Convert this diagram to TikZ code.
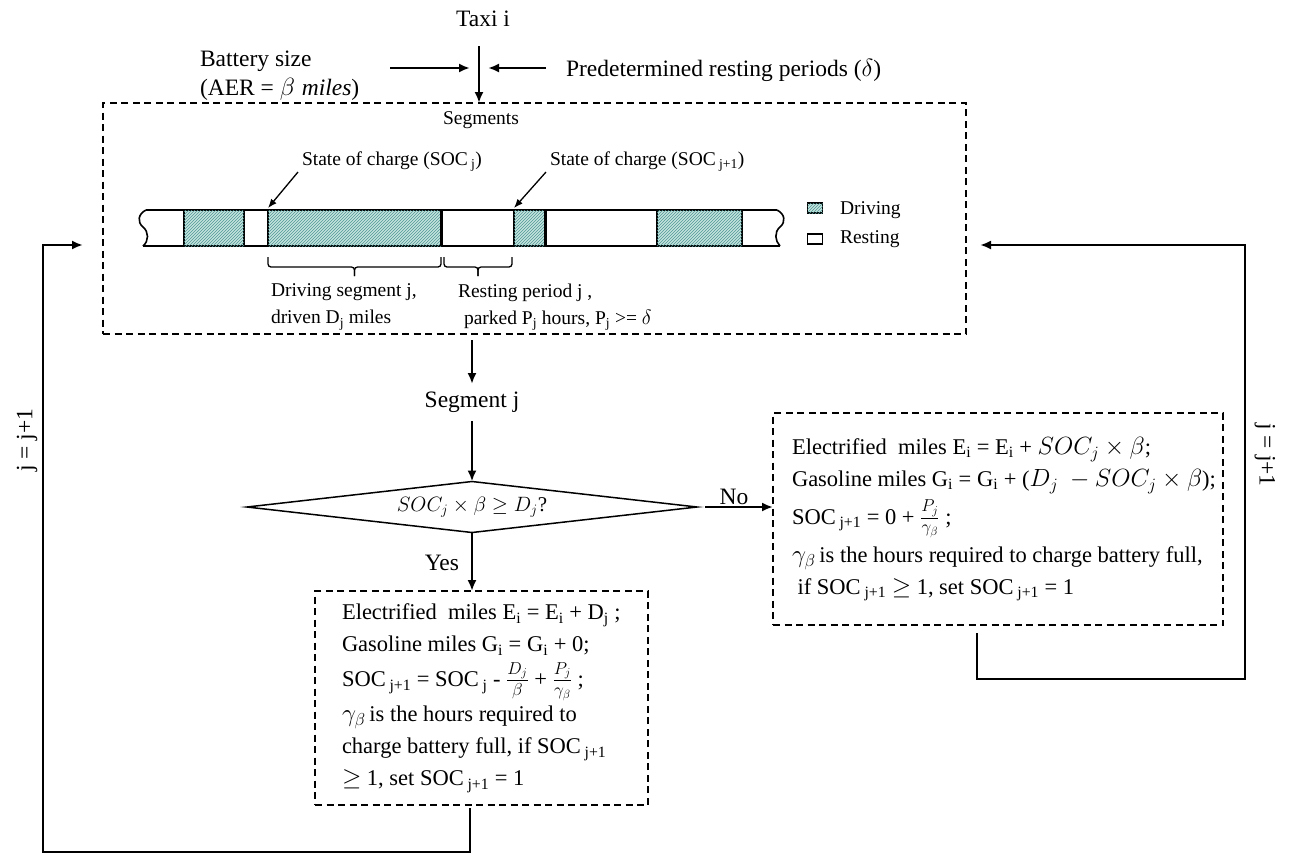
\documentclass[tikz,border=0pt]{standalone}
\usepackage{fontspec}
\setmainfont{Liberation Serif}
\usepackage{amsmath,amssymb}
\usetikzlibrary{arrows.meta,patterns,shapes.geometric}
\definecolor{drivecol}{RGB}{196,228,222}
\definecolor{hatchcol}{RGB}{80,150,150}
\newcommand{\mth}[1]{{\fontsize{25}{30}\selectfont$#1$}}
\begin{document}
\begin{tikzpicture}[x=1pt,y=-1pt,
  every node/.style={inner sep=0pt, outer sep=0pt},
  fnt/.style={font=\fontsize{23.5}{29}\selectfont, align=left},
  bfnt/.style={font=\fontsize{22.5}{32}\selectfont, align=left},
  sfnt/.style={font=\fontsize{19.5}{27}\selectfont, align=left},
  conn/.style={line width=2.2pt},
  arr/.style={conn,-{Latex[length=11pt,width=9pt]}},
  thinarr/.style={line width=1.3pt,-{Latex[length=9pt,width=7pt]}},
  dbox/.style={draw, line width=1.4pt, dash pattern=on 7pt off 4.5pt},
  drv/.style={fill=drivecol, postaction={pattern=north east lines, pattern color=hatchcol}},
  barline/.style={line width=1.6pt},
  brc/.style={line width=1.3pt, rounded corners=3pt},
]
\useasboundingbox (0,0) rectangle (1293,855);

% top inputs
\node[fnt, anchor=base] (taxi) at (483,26) {Taxi i};
\node[fnt, anchor=west] (battery) at (200,76) {Battery size\\(AER = $\beta\;\mathit{miles}$)};
\node[fnt, anchor=west] (pred) at (566,70) {Predetermined resting periods ($\delta$)};
\coordinate (mid) at (479,68);
\coordinate (battarr) at (390,68);
\node[dbox, minimum width=863, minimum height=231, anchor=north west] (segbox) at (103,103) {};
\draw[arr] (mid |- 0,46) -- (mid |- segbox.north);
\draw[arr] (battarr) -- ([xshift=-9pt]mid);
\draw[arr] ([xshift=-20pt]pred.west |- mid) -- ([xshift=9pt]mid);

% segments box content
\node[sfnt, anchor=base] (seglabel) at (481,124) {Segments};

% bar
\draw[barline] (146,210) -- (777,210);
\draw[barline] (143,246) -- (780,246);
\draw[barline] (146,210) .. controls (138,214) and (137,222) .. (143,227) .. controls (149,232) and (149,241) .. (143,246);
\draw[barline] (777,210) .. controls (785,214) and (786,222) .. (780,227) .. controls (774,232) and (775,241) .. (780,246);
\draw[barline, drv] (184,210) rectangle (244,246);
\draw[barline, drv] (268,210) rectangle (441,246);
\draw[barline, drv] (514,210) rectangle (545,246);
\draw[barline, drv] (657,210) rectangle (742,246);
\draw[line width=3pt] (441,210) -- (441,246);
\draw[line width=3pt] (545,210) -- (545,246);

\node[sfnt, anchor=west] (soc1) at (302,162) {State of charge (SOC\,\textsubscript{j})};
\node[sfnt, anchor=west] (soc2) at (550,162) {State of charge (SOC\,\textsubscript{j+1})};
\coordinate (soc1tip) at (268,208);
\coordinate (soc2tip) at (514,208);
\draw[thinarr] ([xshift=-4pt,yshift=-10pt]soc1.west) -- (soc1tip);
\draw[thinarr] ([xshift=-4pt,yshift=-10pt]soc2.west) -- (soc2tip);

% braces
\draw[brc] (268,257) -- (268,267) -- (354.5,267) -- (354.5,276);
\draw[brc] (354.5,276) -- (354.5,267) -- (441,267) -- (441,257);
\draw[brc] (444,257) -- (444,267) -- (478,267) -- (478,276);
\draw[brc] (478,276) -- (478,267) -- (512,267) -- (512,257);
\node[sfnt, anchor=north west] (drvtxt) at (271,284) {Driving segment j,\\driven D\textsubscript{j} miles};
\node[sfnt, anchor=north west] (resttxt) at (458,284) {Resting period j ,\\\hspace*{6pt}parked P\textsubscript{j} hours, P\textsubscript{j} >= $\delta$};

% legend
\node[draw, line width=1.8pt, drv, minimum width=15, minimum height=10] (legd) at (815,208) {};
\node[sfnt, anchor=west] (legdt) at (840,210) {Driving};
\node[draw, line width=1.8pt, minimum width=15, minimum height=10] (legr) at (815,239) {};
\node[sfnt, anchor=west] (legrt) at (840,239) {Resting};

% flow
\node[fnt, anchor=base] (segj) at (472,407) {Segment j};
\draw[arr] ([yshift=-6pt]segj.base |- segbox.south) -- ([yshift=23pt]segj.base);
\node[diamond, draw, line width=1.5pt, minimum width=450, minimum height=51, aspect=9, font=\fontsize{21}{24}\selectfont] (dec) at (472,507) {$SOC_j \times \beta \geq D_j$?};
\draw[arr] ([yshift=-14pt]segj.base) -- (dec.north);

\node[dbox, minimum width=333, minimum height=214, anchor=north west] (yesbox) at (315,591) {};
\node[dbox, minimum width=450, minimum height=212, anchor=north west] (rbox) at (773,413) {};
\draw[arr] (dec.south) -- (dec.south |- yesbox.north);
\node[fnt, anchor=base east] (yes) at (459,570) {Yes};
\draw[arr] ([xshift=8pt]dec.east) -- (rbox.west |- dec.east);
\node[fnt, anchor=base] (no) at (734,504) {No};

\node[bfnt, anchor=north west] (yestxt) at (342,604) {Electrified\ \ miles E\textsubscript{i} = E\textsubscript{i} + D\textsubscript{j} ;\\
Gasoline miles G\textsubscript{i} = G\textsubscript{i} + 0;\\[3pt]
SOC\,\textsubscript{j+1} = SOC\,\textsubscript{j} - \mth{\frac{D_j}{\beta}} + \mth{\frac{P_j}{\gamma_\beta}} ;\\[3pt]
\mth{\gamma_\beta}\,is the hours required to\\
charge battery full, if SOC\,\textsubscript{j+1}\\
\mth{\geq} 1, set SOC\,\textsubscript{j+1} = 1};

\node[bfnt, anchor=north west] (rtxt) at (792,437) {Electrified\ \ miles E\textsubscript{i} = E\textsubscript{i} + \mth{SOC_j \times \beta};\\
Gasoline miles G\textsubscript{i} = G\textsubscript{i} + (\mth{D_j\ - SOC_j \times \beta});\\[6pt]
SOC\,\textsubscript{j+1} = 0 + \mth{\frac{P_j}{\gamma_\beta}} ;\\[6pt]
\mth{\gamma_\beta}\,is the hours required to charge battery full,\\
\ if SOC\,\textsubscript{j+1} \mth{\geq} 1, set SOC\,\textsubscript{j+1} = 1};

% loops
\coordinate (lstart) at (470,808);
\coordinate (lcorner) at (43,852);
\coordinate (lend) at (83,245);
\draw[arr] (lstart) |- (lcorner) |- (lend);
\coordinate (rstart) at (977,633);
\coordinate (rcorner) at (1245,679);
\coordinate (rend) at (980,245);
\draw[arr] (rstart) |- (rcorner) |- (rend);
\node[fnt, rotate=90] (jl) at (27,440) {j = j+1};
\node[fnt, rotate=-90] (jr) at (1265,455) {j = j+1};
\end{tikzpicture}
\end{document}
